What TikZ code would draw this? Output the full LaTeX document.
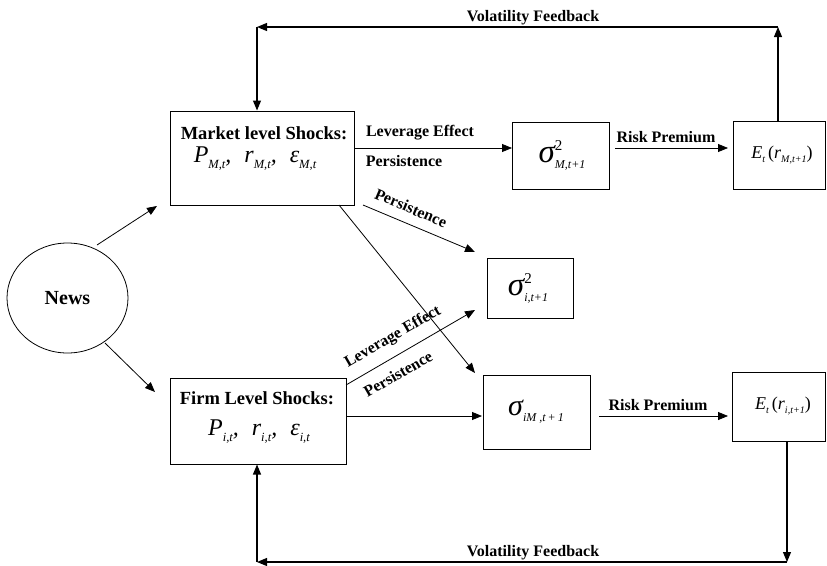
\documentclass[tikz,border=0pt]{standalone}
\usepackage{fontspec}
\setmainfont{Liberation Serif}
\usetikzlibrary{arrows.meta,shapes.geometric}
\newcommand{\sbs}[2][-6pt]{\raisebox{#1}{\fontsize{12.5}{12.5}\selectfont\itshape #2}}
\newcommand{\bigsig}[4]{{\fontsize{#1}{#1}\selectfont\itshape σ}\rlap{\raisebox{#2}{\fontsize{15}{15}\selectfont #3}}\raisebox{-6pt}{\fontsize{12}{12}\selectfont\itshape #4}}
\newcommand{\expv}[1]{{\itshape E}\raisebox{-3.5pt}{\fontsize{10}{10}\selectfont\itshape t}\,({\itshape r}\raisebox{-3.5pt}{\fontsize{10}{10}\selectfont\itshape #1})}
\begin{document}
\begin{tikzpicture}[x=1pt,y=-1pt,
  box/.style={draw,line width=1pt,rectangle,inner sep=0pt},
  arr/.style={line width=0.8pt,-{Triangle[length=10pt,width=8pt]}},
  fb/.style={line width=1.1pt,-{Triangle[length=10pt,width=8pt]}},
  lbl/.style={font=\fontsize{16}{18}\selectfont\bfseries,inner sep=0pt},
  ttl/.style={font=\fontsize{18.5}{20}\selectfont\bfseries,inner sep=0pt},
  mth/.style={font=\fontsize{24}{26}\selectfont\itshape,inner sep=0pt},
  sig/.style={font=\fontsize{20}{22}\selectfont},
  exp/.style={font=\fontsize{18}{20}\selectfont}]
\useasboundingbox (0,0) rectangle (827,565);

% boxes
\node[box,minimum width=184pt,minimum height=94pt] (market) at (262,158) {};
\node[ttl] (mtitle) at (264,133) {Market level Shocks:};
\node[mth] (mmath) at (255,159) {P\sbs{M,t},\hspace{13pt}r\sbs{M,t},\hspace{13pt}ε\sbs{M,t}};

\node[box,minimum width=176pt,minimum height=86pt] (firm) at (258,421) {};
\node[ttl] (ftitle) at (257,398) {Firm Level Shocks:};
\node[mth] (fmath) at (259,432) {P\sbs{i,t},\hspace{13pt}r\sbs{i,t},\hspace{13pt}ε\sbs{i,t}};

\node[box,minimum width=97pt,minimum height=67pt] (sigM) at (560.5,155.5) {};
\node[sig,inner sep=0pt] (sigMt) at (562,155) {\bigsig{33}{12pt}{2}{M,t+1}};
\node[box,minimum width=92pt,minimum height=68pt] (EM) at (779,155) {};
\node[exp,inner sep=0pt] (EMt) at (782,155) {\expv{M,t+1}};
\node[box,minimum width=86pt,minimum height=60pt] (sigi) at (530,288) {};
\node[sig,inner sep=0pt] (sigit) at (528,288) {\bigsig{33}{12pt}{2}{i,t+1}};
\node[box,minimum width=107pt,minimum height=74pt] (siM) at (536.5,412) {};
\node[sig,inner sep=0pt] (siMt) at (536,412) {\bigsig{30}{12pt}{}{iM ,t\,+\,1}};
\node[box,minimum width=93pt,minimum height=69pt] (Ei) at (778.5,406.5) {};
\node[exp,inner sep=0pt] (Eit) at (783,406) {\expv{i,t+1}};

\node[draw,ellipse,line width=0.8pt,minimum width=121pt,minimum height=110pt,
      font=\fontsize{20}{22}\selectfont\bfseries] (news) at (67.5,298) {News};

% coordinates
\coordinate (n1) at (97,245);
\coordinate (n1e) at (157,206);
\coordinate (n2) at (105,343);
\coordinate (n2e) at (155,392);
\coordinate (m1) at (354,148);
\coordinate (m1e) at (512,148);
\coordinate (r1) at (615,148);
\coordinate (r1e) at (728,148);
\coordinate (p1) at (363,205);
\coordinate (p1e) at (475,252);
\coordinate (d1) at (339,205);
\coordinate (d1e) at (475,373);
\coordinate (l1) at (346,385);
\coordinate (l1e) at (475,310);
\coordinate (f1) at (346,416);
\coordinate (f1e) at (482,416);
\coordinate (r2) at (599,416);
\coordinate (r2e) at (728,416);
\coordinate (tr) at (778,27);
\coordinate (tl) at (257,27);
\coordinate (br) at (787,562);
\coordinate (bl) at (257,562);

% connectors
\draw[arr] (n1) -- (n1e);
\draw[arr] (n2) -- (n2e);
\draw[arr] (m1) -- (m1e);
\draw[arr] (r1) -- (r1e);
\draw[arr] (p1) -- (p1e);
\draw[arr] (d1) -- (d1e);
\draw[arr] (l1) -- (l1e);
\draw[arr] (f1) -- (f1e);
\draw[arr] (r2) -- (r2e);

% top feedback
\draw[fb] (EM.north -| tr) -- (tr);
\draw[fb] (tr) -- (tl);
\draw[fb] (tl) -- (tl |- market.north);
% bottom feedback
\draw[fb] (Ei.south -| br) -- (br);
\draw[fb] (br) -- (bl);
\draw[fb] (bl) -- (bl |- firm.south);

% labels
\node[lbl] (vf1) at (533,18) {Volatility Feedback};
\node[lbl] (vf2) at (533,553) {Volatility Feedback};
\node[lbl] (le1) at (420,133) {Leverage Effect};
\node[lbl] (pe1) at (404,161) {Persistence};
\node[lbl] (rp1) at (666,137) {Risk Premium};
\node[lbl] (rp2) at (658,405) {Risk Premium};
\node[lbl,rotate=-23] (pe2) at (411,208) {Persistence};
\node[lbl,rotate=30] (le2) at (393,337) {Leverage Effect};
\node[lbl,rotate=30] (pe3) at (398,374) {Persistence};
\end{tikzpicture}
\end{document}
